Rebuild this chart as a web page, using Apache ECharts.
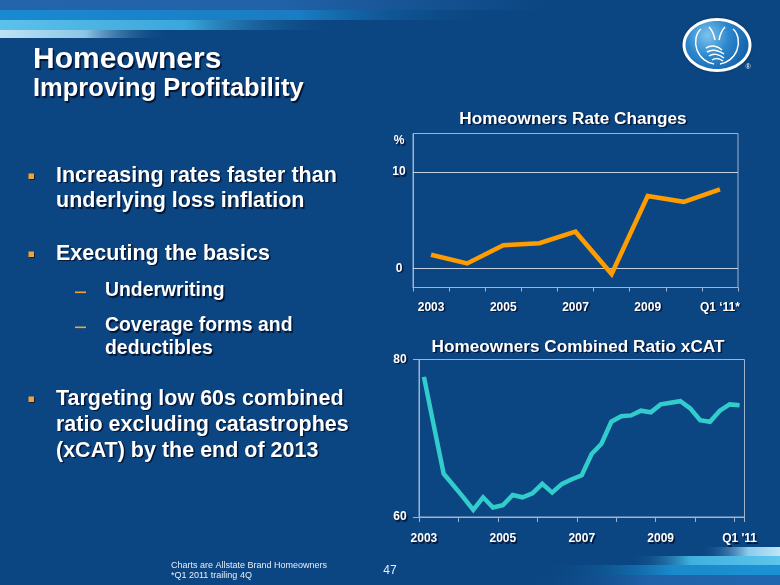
<!DOCTYPE html>
<html>
<head>
<meta charset="utf-8">
<script src="https://cdn.jsdelivr.net/npm/echarts@6/dist/echarts.min.js"></script>
<style>
html,body{margin:0;padding:0;background:#0b4682;}
#chart{width:780px;height:585px;}
</style>
</head>
<body>
<div id="chart"></div>
<script>
// ---- Data ----
const rateYears = ["2003", "2004", "2005", "2006", "2007", "2008", "2009", "2010", "Q1 \u201811*"];
const rateValues = [1.4, 0.5, 2.4, 2.6, 3.8, -0.6, 7.5, 6.9, 8.2];
const rateTickLabels = [0, 10];

const ratioQuarters = [
  "Q1 '03", "Q2 '03", "Q3 '03", "Q4 '03",
  "Q1 '04", "Q2 '04", "Q3 '04", "Q4 '04",
  "Q1 '05", "Q2 '05", "Q3 '05", "Q4 '05",
  "Q1 '06", "Q2 '06", "Q3 '06", "Q4 '06",
  "Q1 '07", "Q2 '07", "Q3 '07", "Q4 '07",
  "Q1 '08", "Q2 '08", "Q3 '08", "Q4 '08",
  "Q1 '09", "Q2 '09", "Q3 '09", "Q4 '09",
  "Q1 '10", "Q2 '10", "Q3 '10", "Q4 '10",
  "Q1 '11"
];
const ratioValues = [
  77.8, 71.6, 65.5, 64.0,
  62.5, 60.9, 62.5, 61.2,
  61.5, 62.8, 62.5, 63.0,
  64.2, 63.1, 64.2, 64.8,
  65.3, 68.0, 69.3, 72.1,
  72.8, 72.9, 73.5, 73.3,
  74.3, 74.5, 74.7, 73.8,
  72.3, 72.1, 73.5, 74.3,
  74.2
];
const ratioTickLabels = { "Q1 '03": "2003", "Q1 '05": "2005", "Q1 '07": "2007", "Q1 '09": "2009", "Q1 '11": "Q1 '11" };

const titleLines = ["Homeowners", "Improving Profitability"];
const bullets = [
  { level: 1, lines: ["Increasing rates faster than", "underlying loss inflation"] },
  { level: 1, lines: ["Executing the basics"] },
  { level: 2, lines: ["Underwriting"] },
  { level: 2, lines: ["Coverage forms and", "deductibles"] },
  { level: 1, lines: ["Targeting low 60s combined", "ratio excluding catastrophes", "(xCAT) by the end of 2013"] }
];
const footnotes = ["Charts are Allstate Brand Homeowners", "*Q1 2011 trailing 4Q"];
const pageNumber = "47";

// ---- Styles ----
const BG = '#0b4682';
const FRAME = '#9fb3cc';
const FONT = '"Liberation Sans", Arial, Helvetica, sans-serif';
const shadow = { textShadowColor: 'rgba(0,0,20,0.75)', textShadowOffsetX: 1.5, textShadowOffsetY: 1.5, textShadowBlur: 1 };

function hGrad(stops) {
  return { type: 'linear', x: 0, y: 0, x2: 1, y2: 0, colorStops: stops };
}

const graphics = [];
// top stripes
graphics.push({ type: 'rect', shape: { x: 0, y: 0, width: 780, height: 10 }, style: { fill: hGrad([{offset:0,color:'#2464aa'},{offset:0.35,color:'#2262a8'},{offset:0.7,color:BG},{offset:1,color:BG}]) }, silent: true });
graphics.push({ type: 'rect', shape: { x: 0, y: 10, width: 500, height: 10 }, style: { fill: hGrad([{offset:0,color:'#1a8ad0'},{offset:0.6,color:'#1a7cc2'},{offset:1,color:'rgba(11,70,130,0)'}]) }, silent: true });
graphics.push({ type: 'rect', shape: { x: 0, y: 20, width: 340, height: 10 }, style: { fill: hGrad([{offset:0,color:'#5cc2ea'},{offset:0.55,color:'#3aa6da'},{offset:1,color:'rgba(11,70,130,0)'}]) }, silent: true });
graphics.push({ type: 'rect', shape: { x: 0, y: 30, width: 170, height: 8 }, style: { fill: hGrad([{offset:0,color:'#bde2f4'},{offset:0.5,color:'#8cc6e6'},{offset:1,color:'rgba(11,70,130,0)'}]) }, silent: true });
// bottom stripes
graphics.push({ type: 'rect', shape: { x: 700, y: 547, width: 80, height: 9 }, style: { fill: hGrad([{offset:0,color:'rgba(11,70,130,0)'},{offset:0.6,color:'#8ccbeb'},{offset:1,color:'#bfe5f6'}]) }, silent: true });
graphics.push({ type: 'rect', shape: { x: 630, y: 556, width: 150, height: 9 }, style: { fill: hGrad([{offset:0,color:'rgba(11,70,130,0)'},{offset:0.4,color:'#3fb0de'},{offset:1,color:'#5cc6ec'}]) }, silent: true });
graphics.push({ type: 'rect', shape: { x: 540, y: 565, width: 240, height: 10 }, style: { fill: hGrad([{offset:0,color:'rgba(11,70,130,0)'},{offset:0.55,color:'#1a8acc'},{offset:1,color:'#1c92d4'}]) }, silent: true });
graphics.push({ type: 'rect', shape: { x: 520, y: 575, width: 260, height: 10 }, style: { fill: hGrad([{offset:0,color:'rgba(11,70,130,0)'},{offset:0.5,color:'#2062aa'},{offset:1,color:'#2066ae'}]) }, silent: true });

// titles
graphics.push({ type: 'text', x: 33, y: 60, silent: true, style: Object.assign({ text: titleLines[0], font: 'bold 30px ' + FONT, fill: '#ffffff', verticalAlign: 'middle' }, shadow) });
graphics.push({ type: 'text', x: 33, y: 89, silent: true, style: Object.assign({ text: titleLines[1], font: 'bold 25.5px ' + FONT, fill: '#ffffff', verticalAlign: 'middle' }, shadow) });

// bullets
const bulletRowY = [[176, 201.5], [254], [291], [326, 349], [399, 425, 451]];
bullets.forEach(function (b, i) {
  const ys = bulletRowY[i];
  if (b.level === 1) {
    graphics.push({ type: 'rect', silent: true, shape: { x: 28.5, y: ys[0] - 2.5, width: 5.5, height: 5.5 }, style: { fill: '#f4a236', shadowColor: 'rgba(0,0,0,0.5)', shadowOffsetX: 1, shadowOffsetY: 1 } });
  } else {
    graphics.push({ type: 'rect', silent: true, shape: { x: 75, y: ys[0] + 0.5, width: 11, height: 1.6 }, style: { fill: '#f4a236' } });
  }
  b.lines.forEach(function (line, j) {
    graphics.push({ type: 'text', silent: true, x: b.level === 1 ? 56 : 105, y: ys[j],
      style: Object.assign({ text: line, font: 'bold ' + (b.level === 1 ? 21.5 : 19.4) + 'px ' + FONT, fill: '#ffffff', verticalAlign: 'middle' }, shadow) });
  });
});

// chart titles and % label
graphics.push({ type: 'text', silent: true, x: 573, y: 119, style: Object.assign({ text: 'Homeowners Rate Changes', font: 'bold 17.2px ' + FONT, fill: '#ffffff', align: 'center', verticalAlign: 'middle' }, shadow) });
graphics.push({ type: 'text', silent: true, x: 578, y: 347, style: Object.assign({ text: 'Homeowners Combined Ratio xCAT', font: 'bold 17.2px ' + FONT, fill: '#ffffff', align: 'center', verticalAlign: 'middle' }, shadow) });
graphics.push({ type: 'text', silent: true, x: 399, y: 141, style: Object.assign({ text: '%', font: 'bold 12px ' + FONT, fill: '#ffffff', align: 'center', verticalAlign: 'middle' }, shadow) });

// footer
graphics.push({ type: 'text', silent: true, x: 171, y: 566, style: { text: footnotes[0], font: '9px ' + FONT, fill: '#e8eef6', verticalAlign: 'middle' } });
graphics.push({ type: 'text', silent: true, x: 171, y: 576, style: { text: footnotes[1], font: '9px ' + FONT, fill: '#e8eef6', verticalAlign: 'middle' } });
graphics.push({ type: 'text', silent: true, x: 390, y: 571, style: { text: pageNumber, font: '12px ' + FONT, fill: '#e8eef6', align: 'center', verticalAlign: 'middle' } });

// logo
graphics.push({ type: 'ellipse', silent: true, shape: { cx: 717, cy: 45, rx: 34.5, ry: 27 }, style: { fill: '#ffffff', shadowColor: 'rgba(0,0,0,0.35)', shadowBlur: 3 } });
graphics.push({ type: 'ellipse', silent: true, shape: { cx: 717, cy: 45, rx: 31.5, ry: 24 }, style: { fill: { type: 'radial', x: 0.35, y: 0.3, r: 0.9, colorStops: [{offset:0,color:'#7cc4ee'},{offset:0.5,color:'#2c86cc'},{offset:1,color:'#1460a8'}] } } });
const logoCurves = [
  [701,29, 696,33, 694,42, 697,50], [697,50, 700,58, 707,63, 714,64],
  [709,27, 712,30, 714,35, 715,40],
  [725,27, 722,30, 720,35, 719,40],
  [733,29, 738,33, 740,42, 737,50], [737,50, 734,58, 727,63, 720,64],
  [706,48, 711,45, 717,46, 722,50], [707,52, 712,49, 718,50, 724,54],
  [709,56, 713,53, 719,54, 724,58], [712,60, 715,58, 719,58, 723,61]
];
logoCurves.forEach(function (c) {
  graphics.push({ type: 'bezierCurve', silent: true,
    shape: { x1: c[0], y1: c[1], cpx1: c[2], cpy1: c[3], cpx2: c[4], cpy2: c[5], x2: c[6], y2: c[7] },
    style: { fill: null, stroke: '#ffffff', lineWidth: 1.5 } });
});
graphics.push({ type: 'text', silent: true, x: 748, y: 67, style: { text: '\u00ae', font: '7px ' + FONT, fill: '#ffffff', align: 'center', verticalAlign: 'middle' } });

const axisLabelBase = Object.assign({ color: '#ffffff', fontWeight: 'bold', fontSize: 12, fontFamily: FONT }, shadow);

const option = {
  backgroundColor: BG,
  animation: false,
  graphic: graphics,
  grid: [
    { left: 413, right: 42, top: 133.5, height: 154, show: true, borderColor: FRAME, borderWidth: 1, backgroundColor: 'transparent' },
    { left: 419, right: 35.5, top: 359.5, height: 157.5, show: true, borderColor: FRAME, borderWidth: 1, backgroundColor: 'transparent' }
  ],
  xAxis: [
    { type: 'category', gridIndex: 0, data: rateYears, boundaryGap: true,
      axisLine: { onZero: false, lineStyle: { color: FRAME, width: 1 } },
      axisTick: { show: true, interval: 0, length: 4, lineStyle: { color: FRAME } },
      axisLabel: Object.assign({ interval: 1, margin: 14 }, axisLabelBase) },
    { type: 'category', gridIndex: 1, data: ratioQuarters, boundaryGap: true,
      axisLine: { onZero: false, lineStyle: { color: FRAME, width: 1 } },
      axisTick: { show: true, interval: 3, length: 5, lineStyle: { color: FRAME } },
      axisLabel: Object.assign({ interval: 7, margin: 16, formatter: function (v) { return ratioTickLabels[v] || ''; } }, axisLabelBase) }
  ],
  yAxis: [
    { type: 'value', gridIndex: 0, min: -2, max: 14, interval: 2,
      splitLine: { show: false },
      axisLine: { show: true, lineStyle: { color: FRAME, width: 1 } },
      axisTick: { show: false },
      axisLabel: Object.assign({ align: 'center', margin: 14, formatter: function (v) { return rateTickLabels.indexOf(v) >= 0 ? String(v) : ''; } }, axisLabelBase) },
    { type: 'value', gridIndex: 1, min: 60, max: 80, interval: 20,
      splitLine: { show: false },
      axisLine: { show: true, lineStyle: { color: FRAME, width: 1 } },
      axisTick: { show: true, length: 6, lineStyle: { color: FRAME } },
      axisLabel: Object.assign({ align: 'center', margin: 19 }, axisLabelBase) }
  ],
  series: [
    { type: 'line', xAxisIndex: 0, yAxisIndex: 0, data: rateValues, showSymbol: false, symbol: 'none',
      lineStyle: { color: '#ff9c00', width: 4.5, join: 'miter' }, z: 5,
      markLine: { silent: true, symbol: 'none', label: { show: false }, animation: false,
        lineStyle: { color: '#c3d1e3', width: 1.2, type: 'solid' },
        data: rateTickLabels.map(function (v) { return { yAxis: v }; }) } },
    { type: 'line', xAxisIndex: 1, yAxisIndex: 1, data: ratioValues, showSymbol: false, symbol: 'none',
      lineStyle: { color: '#33cccc', width: 4.5, join: 'miter' }, z: 5 }
  ]
};

const chart = echarts.init(document.getElementById('chart'), null, { renderer: 'canvas' });
chart.setOption(option);
</script>
</body>
</html>
